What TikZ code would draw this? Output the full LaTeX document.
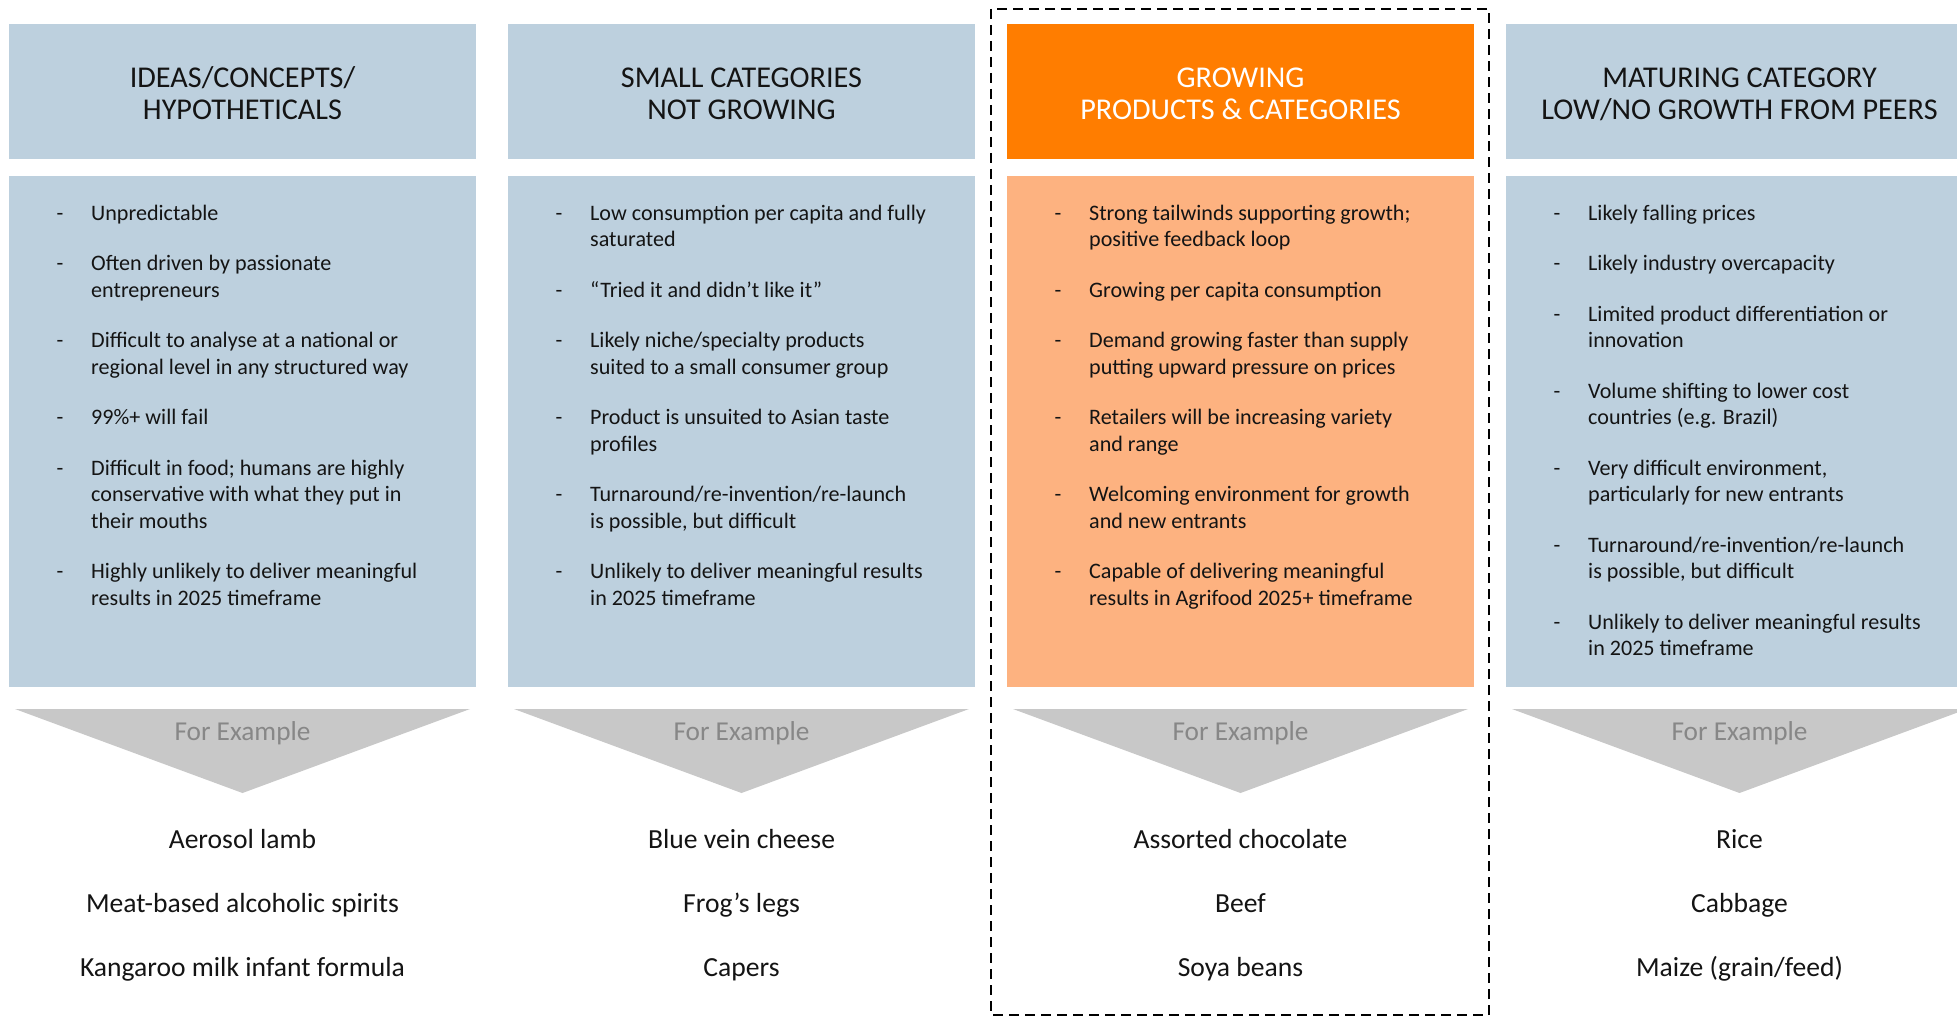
\documentclass[tikz,border=0pt]{standalone}
\usepackage{fontspec}
\setmainfont{Carlito}
\usepackage{array}
\definecolor{hdrblue}{RGB}{189,208,222}
\definecolor{hdrorange}{RGB}{255,125,0}
\definecolor{bodyorange}{RGB}{253,178,128}
\definecolor{trigray}{RGB}{200,200,200}
\definecolor{forexgray}{RGB}{135,135,135}
\definecolor{txt}{RGB}{20,20,20}
\newcommand\hdrfont{\fontsize{30.2}{32.4}\selectfont}
\newcommand\bodyfont{\fontsize{22.1}{26.5}\selectfont}
\newcommand\exfont{\fontsize{27.6}{30}\selectfont}
\newcommand\gapp{\\[24pt]}
\begin{document}
\begin{tikzpicture}[x=1pt,y=-1pt,
  hdrbox/.style={draw=none,fill=hdrblue,minimum width=467pt,minimum height=134.5pt,inner sep=0pt,anchor=north west},
  bodybox/.style={draw=none,fill=hdrblue,minimum width=467pt,minimum height=511pt,inner sep=0pt,anchor=north west},
  hdrtext/.style={anchor=base,inner sep=0pt,text=txt,font=\hdrfont},
  bodytext/.style={anchor=base west,inner sep=0pt,text=txt,font=\bodyfont},
  forex/.style={anchor=base,inner sep=0pt,text=forexgray,font=\fontsize{27.3}{30}\selectfont},
  extext/.style={anchor=base,inner sep=0pt,text=txt,font=\exfont},
  tri/.style={fill=trigray,draw=none}]
\useasboundingbox (0,0) rectangle (1957,1019);
\fill[white] (0,0) rectangle (1957,1019);

% columns: left edges 9, 508, 1007, 1506 ; centres 242.5, 741.5, 1240.5, 1739.5
\node[hdrbox] (h1) at (9,24) {};
\node[hdrbox] (h2) at (508,24) {};
\node[hdrbox,fill=hdrorange] (h3) at (1007,24) {};
\node[hdrbox] (h4) at (1506,24) {};
\node[bodybox] (b1) at (9,176) {};
\node[bodybox] (b2) at (508,176) {};
\node[bodybox,fill=bodyorange] (b3) at (1007,176) {};
\node[bodybox] (b4) at (1506,176) {};

% headers
\node[hdrtext] (t1) at (242.5,87.3) {\begin{tabular}[t]{@{}c@{}}IDEAS/CONCEPTS/\\HYPOTHETICALS\end{tabular}};
\node[hdrtext] (t2) at (741.5,87.3) {\begin{tabular}[t]{@{}c@{}}SMALL CATEGORIES\\NOT GROWING\end{tabular}};
\node[hdrtext,text=white] (t3) at (1240.5,87.3) {\begin{tabular}[t]{@{}c@{}}GROWING\\PRODUCTS \& CATEGORIES\end{tabular}};
\node[hdrtext] (t4) at (1739.5,87.3) {\begin{tabular}[t]{@{}c@{}}MATURING CATEGORY\\LOW/NO GROWTH FROM PEERS\end{tabular}};

% bullet lists
\node[bodytext] (l1) at (56.5,220.5) {\begin{tabular}[t]{@{}p{34.5pt}@{}l@{}}
-&Unpredictable\gapp
-&Often driven by passionate\\&entrepreneurs\gapp
-&Difficult to analyse at a national or\\&regional level in any structured way\gapp
-&99\%+ will fail\gapp
-&Difficult in food; humans are highly\\&conservative with what they put in\\&their mouths\gapp
-&Highly unlikely to deliver meaningful\\&results in 2025 timeframe
\end{tabular}};
\node[bodytext] (l2) at (555.5,220.5) {\begin{tabular}[t]{@{}p{34.5pt}@{}l@{}}
-&Low consumption per capita and fully\\&saturated\gapp
-&“Tried it and didn’t like it”\gapp
-&Likely niche/specialty products\\&suited to a small consumer group\gapp
-&Product is unsuited to Asian taste\\&profiles\gapp
-&Turnaround/re-invention/re-launch\\&is possible, but difficult\gapp
-&Unlikely to deliver meaningful results\\&in 2025 timeframe
\end{tabular}};
\node[bodytext] (l3) at (1054.5,220.5) {\begin{tabular}[t]{@{}p{34.5pt}@{}l@{}}
-&Strong tailwinds supporting growth;\\&positive feedback loop\gapp
-&Growing per capita consumption\gapp
-&Demand growing faster than supply\\&putting upward pressure on prices\gapp
-&Retailers will be increasing variety\\&and range\gapp
-&Welcoming environment for growth\\&and new entrants\gapp
-&Capable of delivering meaningful\\&results in Agrifood 2025+ timeframe
\end{tabular}};
\node[bodytext] (l4) at (1553.5,220.5) {\begin{tabular}[t]{@{}p{34.5pt}@{}l@{}}
-&Likely falling prices\gapp
-&Likely industry overcapacity\gapp
-&Limited product differentiation or\\&innovation\gapp
-&Volume shifting to lower cost\\&countries (e.g. Brazil)\gapp
-&Very difficult environment,\\&particularly for new entrants\gapp
-&Turnaround/re-invention/re-launch\\&is possible, but difficult\gapp
-&Unlikely to deliver meaningful results\\&in 2025 timeframe
\end{tabular}};

% "For Example" arrows
\fill[tri] (15,709) -- (470,709) -- (242.5,793) -- cycle;
\fill[tri] (514,709) -- (969,709) -- (741.5,793) -- cycle;
\fill[tri] (1013,709) -- (1468,709) -- (1240.5,793) -- cycle;
\fill[tri] (1512,709) -- (1967,709) -- (1739.5,793) -- cycle;
\node[forex] (f1) at (242.5,740) {For Example};
\node[forex] (f2) at (741.5,740) {For Example};
\node[forex] (f3) at (1240.5,740) {For Example};
\node[forex] (f4) at (1739.5,740) {For Example};

% examples
\node[extext] (e11) at (242.5,848) {Aerosol lamb};
\node[extext] (e12) at (242.5,912) {Meat-based alcoholic spirits};
\node[extext] (e13) at (242.5,976) {Kangaroo milk infant formula};
\node[extext] (e21) at (741.5,848) {Blue vein cheese};
\node[extext] (e22) at (741.5,912) {Frog’s legs};
\node[extext] (e23) at (741.5,976) {Capers};
\node[extext] (e31) at (1240.5,848) {Assorted chocolate};
\node[extext] (e32) at (1240.5,912) {Beef};
\node[extext] (e33) at (1240.5,976) {Soya beans};
\node[extext] (e41) at (1739.5,848) {Rice};
\node[extext] (e42) at (1739.5,912) {Cabbage};
\node[extext] (e43) at (1739.5,976) {Maize (grain/feed)};

% dashed highlight
\draw[line width=2pt,dash pattern=on 10pt off 6pt] (991,9) rectangle (1489,1015);
\end{tikzpicture}
\end{document}
